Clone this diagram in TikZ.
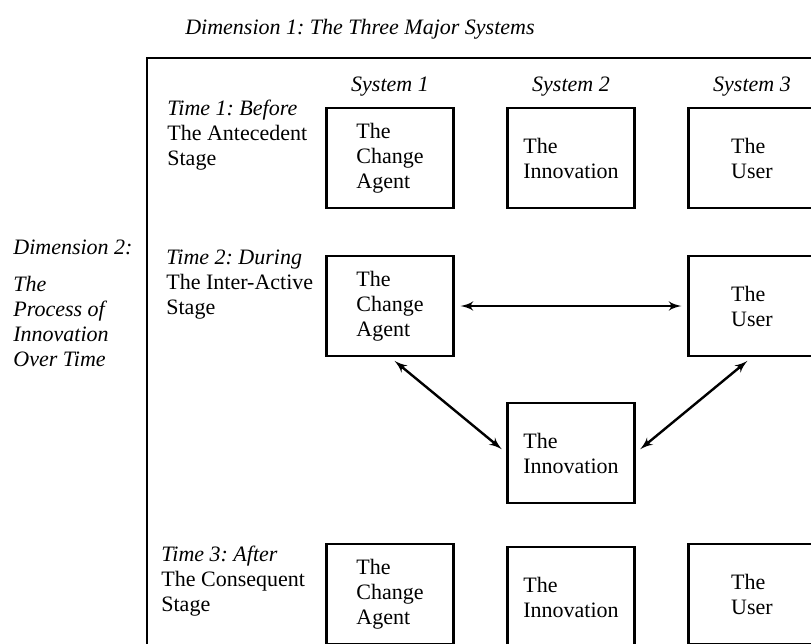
\documentclass[tikz,border=0pt]{standalone}
\usepackage{fontspec}
\setmainfont{Liberation Serif}
\usepackage{tikz}
\usetikzlibrary{arrows}
\usetikzlibrary{positioning}
\tikzset{
    sysbox/.style={
           rectangle,
           draw=black, line width=1.1pt,
           minimum width=63.5pt,
           minimum height=50pt,
           align=left,
           font=\fontsize{11}{12.5}\selectfont,
           },
    syslabel/.style={font=\fontsize{11}{12.5}\selectfont\itshape},
    timelabel/.style={
           align=left, anchor=west, inner sep=0pt,
           font=\fontsize{11}{12.5}\selectfont,
           },
    link/.style={<->, line width=1.2pt, shorten >=3pt, shorten <=3pt},
}

\begin{document}
\frenchspacing
\begin{tikzpicture}[x=0.5pt,y=-0.5pt,>=latex',node distance=74pt]
	\useasboundingbox (0,0) rectangle (811,644);
	\clip (0,0) rectangle (811,644);

	% frame round the three stages
	\draw[line width=1.2pt] (811,58) -- (147,58) -- (147,644);

	\node[syslabel] (title) at (360,29) {Dimension 1: The Three Major Systems};

	% time 1
	\node[sysbox] (ca1) at (390,158) {The\\Change\\Agent};
	\node[sysbox] (in1) [right of=ca1, node distance=90.5pt] {The\\Innovation};
	\node[sysbox] (us1) [right of=in1, node distance=90.5pt] {The\\User};

	\node[syslabel] (sys1) [above of=ca1, node distance=35.5pt] {System 1};
	\node[syslabel] (sys2) [above of=in1, node distance=35.5pt] {System 2};
	\node[syslabel] (sys3) [above of=us1, node distance=35.5pt] {System 3};

	% time 2
	\node[sysbox] (ca2) [below of=ca1] {The\\Change\\Agent};
	\node[sysbox] (us2) [below of=us1] {The\\User};
	\node[sysbox] (in2) [below of=in1, node distance=147.5pt] {The\\Innovation};

	% time 3
	\node[sysbox] (ca3) [below of=ca2, node distance=144pt] {The\\Change\\Agent};
	\node[sysbox] (in3) [below of=in2, node distance=72pt] {The\\Innovation};
	\node[sysbox] (us3) [below of=us2, node distance=144pt] {The\\User};

	\node[timelabel] (t1) at (167,135) {\textit{Time 1: Before}\\The Antecedent\\Stage};
	\node[timelabel] (t2) at (166,285) {\textit{Time 2: During}\\The Inter-Active\\Stage};
	\node[timelabel] (t3) at (161,581) {\textit{Time 3: After}\\The Consequent\\Stage};

	\node[timelabel,font=\fontsize{11}{12.5}\selectfont\itshape] (dim2) at (13,303)
		{Dimension 2:\\[6pt]The\\Process of\\Innovation\\Over Time};

	\path[link] (ca2) edge (us2);
	\path[link] (ca2.south) edge (in2.west);
	\path[link] (us2.south) edge (in2.east);

\end{tikzpicture}
\end{document}
